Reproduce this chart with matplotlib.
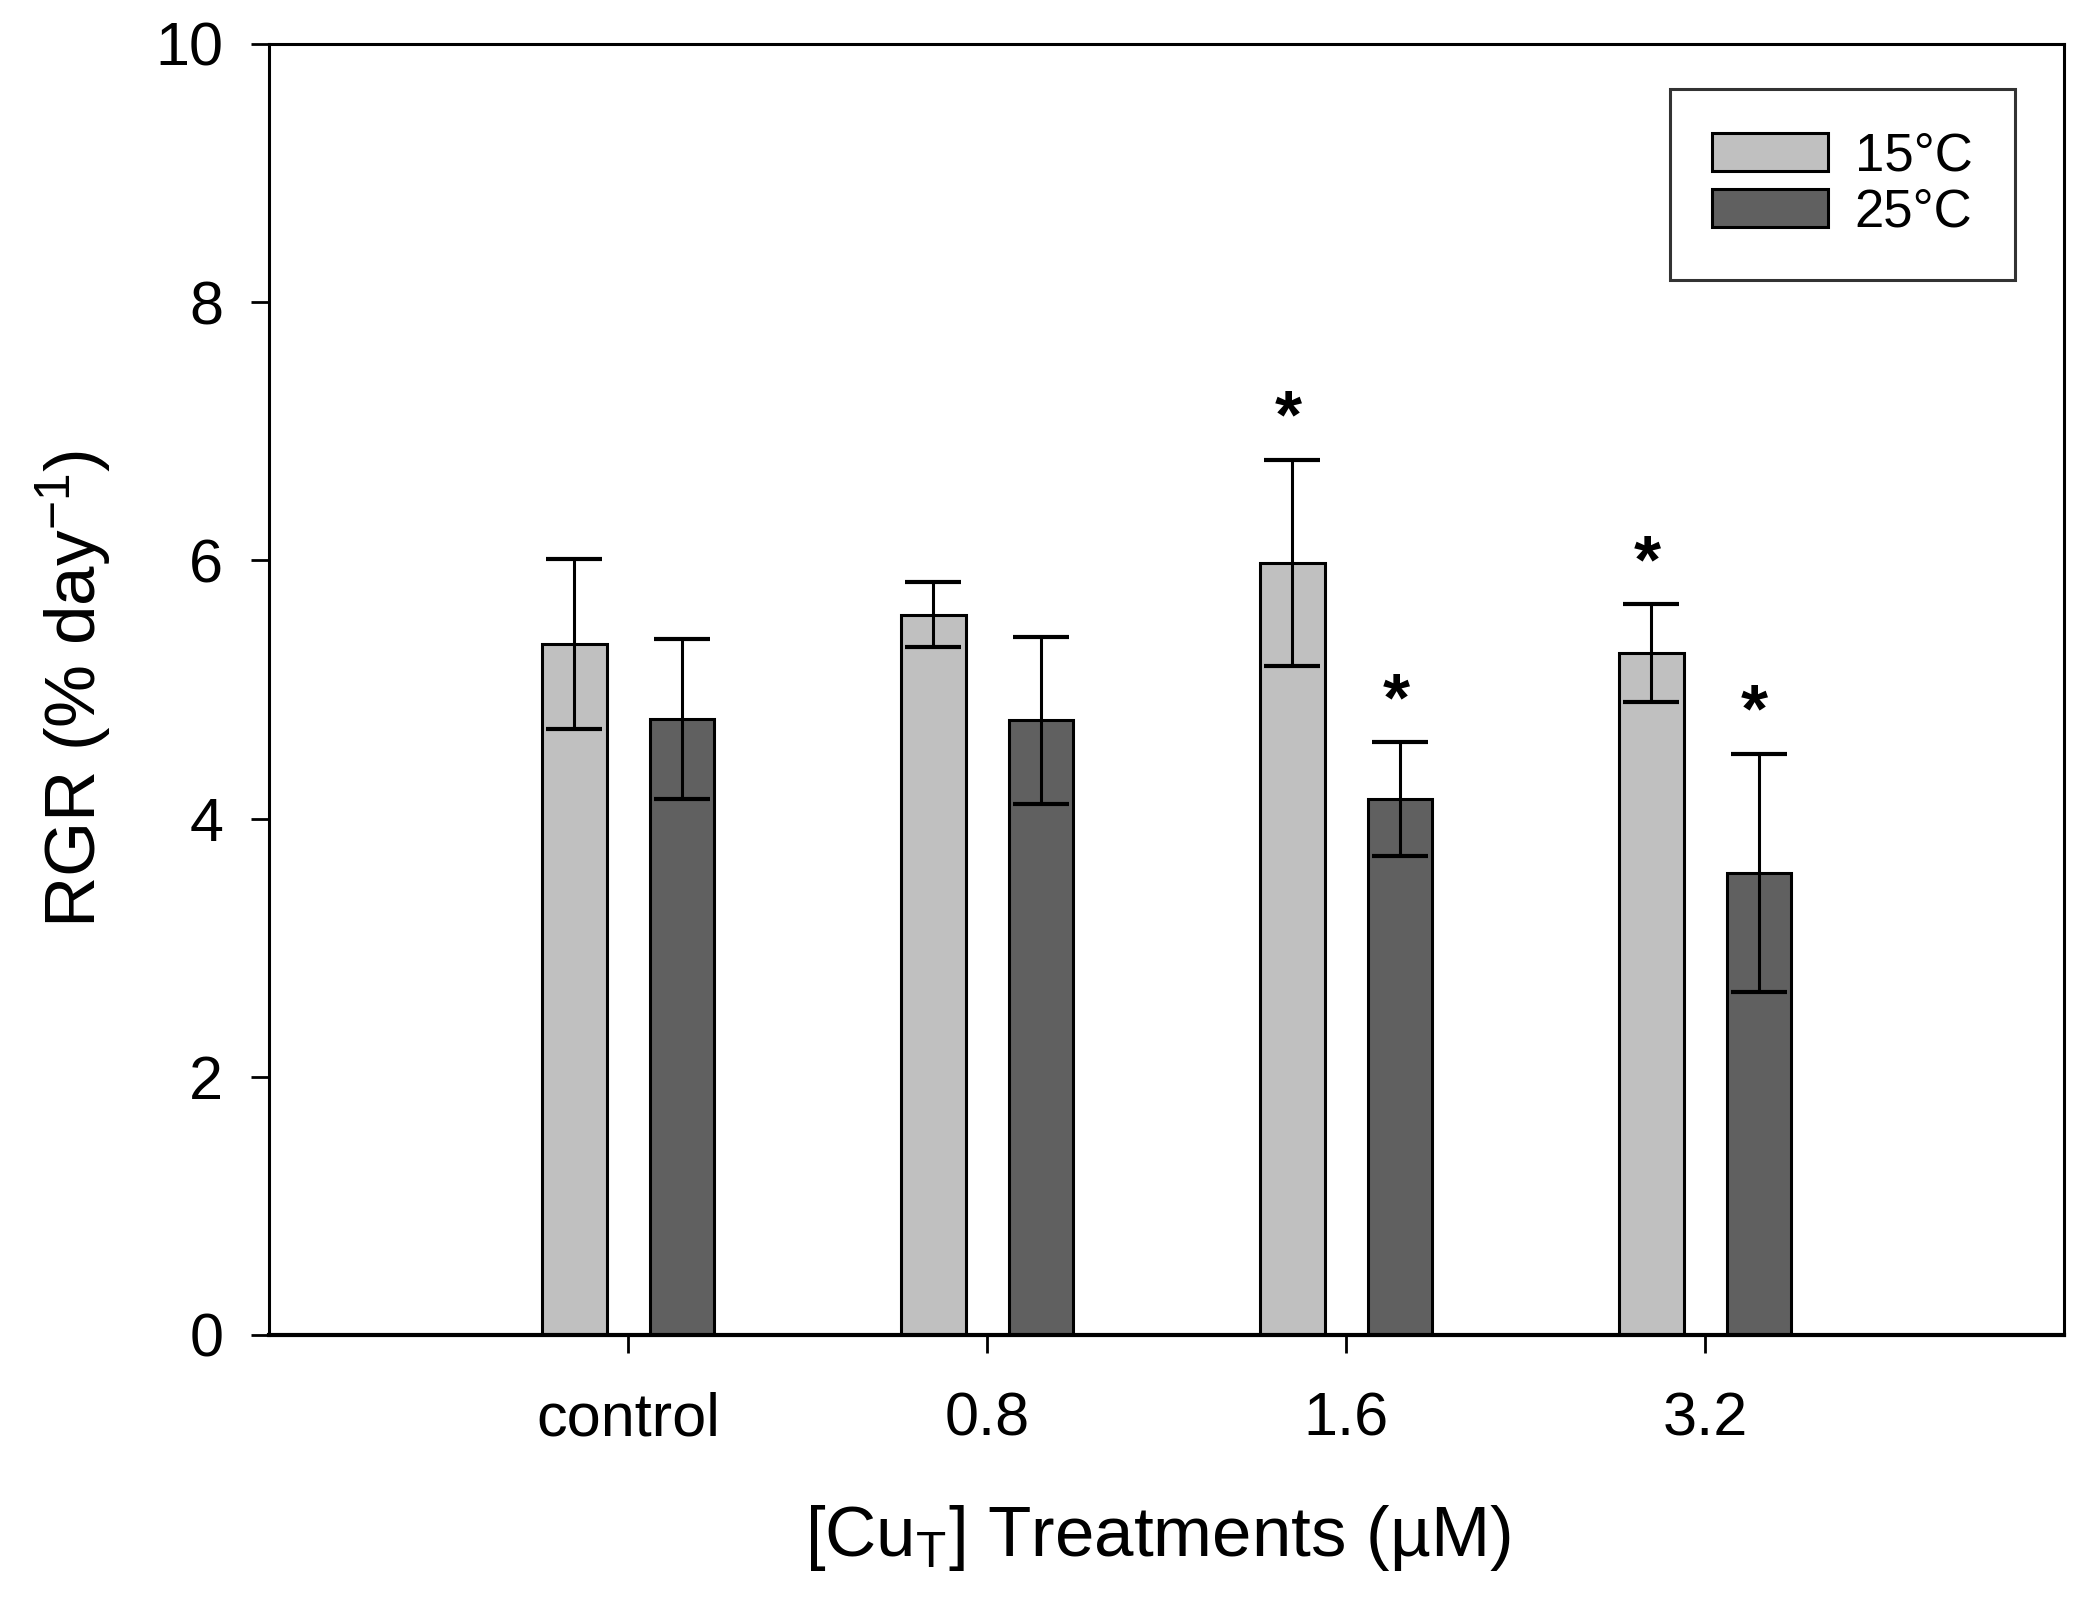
import matplotlib
matplotlib.use('Agg')
import matplotlib.pyplot as plt
import numpy as np

plt.rcParams['font.family'] = ['Liberation Sans', 'DejaVu Sans']
plt.rcParams['mathtext.fontset'] = 'custom'
plt.rcParams['mathtext.rm'] = 'Liberation Sans'
plt.rcParams['mathtext.it'] = 'Liberation Sans'

treatments = ['control', '0.8', '1.6', '3.2']
labels = ['15°C', '25°C']
rgr_15 = [5.35, 5.58, 5.98, 5.28]
err_15 = [0.66, 0.25, 0.80, 0.38]
rgr_25 = [4.77, 4.76, 4.15, 3.58]
err_25 = [0.62, 0.65, 0.44, 0.92]
sig_15 = [False, False, True, True]
sig_25 = [False, False, True, True]
colors = ['#c0c0c0', '#606060']

x = np.arange(1, len(treatments)+1)
w = 0.18
off = 0.15

fig = plt.figure(figsize=[20.91, 16.03], dpi=100)
ax = fig.add_axes([0.1287, 0.1672, 0.9871-0.1287, 0.9726-0.1672])

series = [(rgr_15, err_15, sig_15, -off), (rgr_25, err_25, sig_25, off)]
for i, (vals, errs, sig, o) in enumerate(series):
    ax.bar(x+o, vals, width=w, color=colors[i], edgecolor='black', linewidth=2.2,
           label=labels[i], zorder=2)
    ax.errorbar(x+o, vals, yerr=errs, fmt='none', ecolor='black', elinewidth=2.2,
                capsize=20, capthick=3, zorder=3)
    for xi, v, e, s in zip(x+o, vals, errs, sig):
        if s:
            ax.annotate('*', (xi, v+e), xytext=(-3, 6), textcoords='offset points',
                        ha='center', va='bottom', fontsize=50, fontweight='bold')

ax.set_xlim(0, 5)
ax.set_ylim(0, 10)
ax.set_xticks(x)
ax.set_xticklabels(treatments)
ax.set_yticks([0, 2, 4, 6, 8, 10])
ax.tick_params(axis='both', direction='out', length=13, width=2, labelsize=44)
ax.tick_params(axis='x', pad=28)
ax.tick_params(axis='y', pad=20)
for s in ax.spines.values():
    s.set_linewidth(2.2)
ax.spines['bottom'].set_linewidth(3)

ax.set_ylabel('RGR (% day$^{\u22121}$)', fontsize=51, va='center')
ax.yaxis.set_label_coords(-0.109, 0.5)
ax.set_xlabel('[Cu$_\\mathrm{T}$] Treatments (µM)', fontsize=51, va='center')
ax.xaxis.set_label_coords(0.495, -0.157)

leg = ax.legend(loc='upper right', bbox_to_anchor=(0.9725, 0.965), fontsize=38,
                frameon=True, fancybox=False, edgecolor='black', handlelength=2.2,
                handleheight=0.72, borderpad=0.8, labelspacing=0.12, handletextpad=0.5,
                borderaxespad=0)
leg.get_frame().set_linewidth(2.2)

plt.savefig('out.png', dpi=100)
plt.close('all')
